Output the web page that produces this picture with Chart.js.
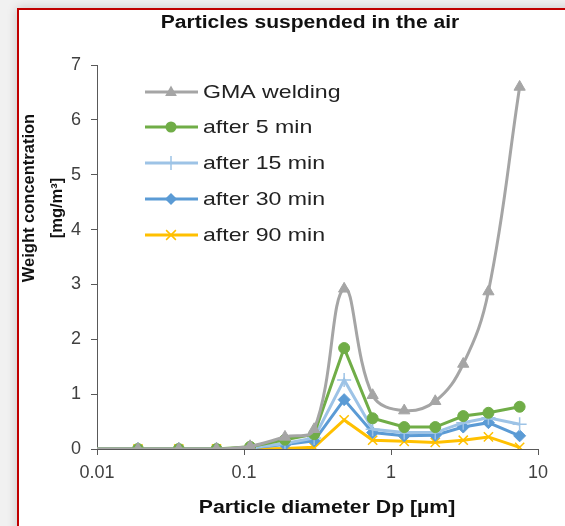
<!DOCTYPE html>
<html>
<head>
<meta charset="utf-8">
<script src="https://cdn.jsdelivr.net/npm/chart.js@4.4.0/dist/chart.umd.min.js"></script>
<style>
html, body { margin: 0; padding: 0; width: 565px; height: 526px; overflow: hidden; background: #f1f1f1; }
#frame { position: absolute; left: 17px; top: 8px; width: 620px; height: 600px; border: 2px solid #c00000; background: #fff; box-shadow: 0 0 10px rgba(0,0,0,0.18); }
#chart { position: absolute; left: 0; top: 0; }
</style>
</head>
<body>
<div id="frame"></div>
<canvas id="chart" width="565" height="526"></canvas>
<script>
// particle diameter (um) of each measuring stage
const diameters = [0.01, 0.019, 0.036, 0.065, 0.11, 0.19, 0.30, 0.48, 0.75, 1.23, 2.0, 3.1, 4.6, 7.5];

// weight concentration [mg/m3]
const gmaWelding = [0, 0, 0, 0, 0.05, 0.22, 0.36, 2.92, 0.98, 0.70, 0.87, 1.55, 2.87, 6.6];
const after5 = [0, 0, 0, 0, 0.04, 0.17, 0.27, 1.84, 0.56, 0.40, 0.40, 0.60, 0.66, 0.77];
const after15 = [0, 0, 0, 0, 0.02, 0.10, 0.20, 1.26, 0.36, 0.30, 0.30, 0.48, 0.57, 0.45];
const after30 = [0, 0, 0, 0, 0.02, 0.08, 0.15, 0.90, 0.30, 0.24, 0.25, 0.40, 0.48, 0.24];
const after90 = [0, 0, 0, 0, 0.00, 0.01, 0.03, 0.53, 0.16, 0.14, 0.12, 0.16, 0.22, 0.03];

const seriesNames = ['GMA welding', 'after 5 min', 'after 15 min', 'after 30 min', 'after 90 min'];
const xTicks = [0.01, 0.1, 1, 10];

const FONT = 'Arial, "Liberation Sans", sans-serif';

const styles = [
  { color: '#A5A5A5', point: 'triangle', r: 6.5, tension: 0.4 },
  { color: '#70AD47', point: 'circle', r: 5.5, tension: 0 },
  { color: '#9DC3E6', point: 'cross', r: 7, tension: 0 },
  { color: '#5B9BD5', point: 'rectRot', r: 6, tension: 0 },
  { color: '#FFC000', point: 'crossRot', r: 6.5, tension: 0 }
];

const values = [gmaWelding, after5, after15, after30, after90];

const datasets = values.map(function(vals, k) {
  const s = styles[k];
  return {
    label: seriesNames[k],
    data: diameters.map(function(d, i) { return { x: d, y: vals[i] }; }),
    borderColor: s.color,
    backgroundColor: s.color,
    borderWidth: 3,
    tension: s.tension,
    pointStyle: s.point,
    pointRadius: function(ctx) { return ctx.dataIndex === 0 ? 0 : s.r; },
    pointBorderWidth: (s.point === 'cross' || s.point === 'crossRot') ? 1.5 : 1,
    pointBackgroundColor: s.color,
    pointBorderColor: s.color,
    order: k
  };
});

// hand drawn marker for the legend
function marker(c, style, x, y, r, color) {
  c.fillStyle = color;
  c.strokeStyle = color;
  c.lineWidth = 1.5;
  c.beginPath();
  if (style === 'triangle') {
    c.moveTo(x, y - r);
    c.lineTo(x + r * 0.9, y + r * 0.6);
    c.lineTo(x - r * 0.9, y + r * 0.6);
    c.closePath();
    c.fill();
  } else if (style === 'circle') {
    c.arc(x, y, r, 0, Math.PI * 2);
    c.fill();
  } else if (style === 'cross') {
    c.moveTo(x, y - r); c.lineTo(x, y + r);
    c.moveTo(x - r, y); c.lineTo(x + r, y);
    c.stroke();
  } else if (style === 'rectRot') {
    c.moveTo(x, y - r); c.lineTo(x + r, y); c.lineTo(x, y + r); c.lineTo(x - r, y);
    c.closePath();
    c.fill();
  } else if (style === 'crossRot') {
    const d = r * 0.75;
    c.moveTo(x - d, y - d); c.lineTo(x + d, y + d);
    c.moveTo(x + d, y - d); c.lineTo(x - d, y + d);
    c.stroke();
  }
}

// the original picture is a bit stretched sideways, so text gets a x scale
function wideText(c, text, x, y, sx) {
  c.save();
  c.translate(x, y);
  c.scale(sx, 1);
  c.fillText(text, 0, 0);
  c.restore();
}

const overlay = {
  id: 'overlay',
  afterDraw: function(chart) {
    const c = chart.ctx;
    c.save();
    c.fillStyle = '#111';
    c.textAlign = 'center';
    c.textBaseline = 'middle';
    c.font = 'bold 18px ' + FONT;
    wideText(c, 'Particles suspended in the air', 310, 23, 1.17);
    wideText(c, 'Particle diameter Dp [µm]', 327, 508, 1.18);

    c.save();
    c.translate(43, 200);
    c.rotate(-Math.PI / 2);
    c.font = 'bold 16.5px ' + FONT;
    c.fillText('Weight concentration', 2, -14);
    c.fillText('[mg/m³]', -8, 14);
    c.restore();

    // legend inside the plot
    const rows = [92, 127, 163, 199, 235];
    c.textAlign = 'left';
    c.font = '18.5px ' + FONT;
    for (let k = 0; k < seriesNames.length; k++) {
      const y = rows[k];
      c.strokeStyle = styles[k].color;
      c.lineWidth = 3;
      c.beginPath();
      c.moveTo(145, y);
      c.lineTo(198, y);
      c.stroke();
      marker(c, styles[k].point, 171, y, styles[k].r, styles[k].color);
      c.fillStyle = '#222';
      wideText(c, seriesNames[k], 203, y + 1, 1.25);
    }
    c.restore();
  }
};

new Chart(document.getElementById('chart'), {
  type: 'line',
  data: { datasets: datasets },
  plugins: [overlay],
  options: {
    responsive: false,
    animation: false,
    layout: { padding: { left: 0, right: 27, top: 65, bottom: 0 } },
    plugins: {
      legend: { display: false },
      title: { display: false },
      tooltip: { enabled: false }
    },
    scales: {
      x: {
        type: 'logarithmic',
        min: 0.01,
        max: 10,
        afterBuildTicks: function(s) { s.ticks = xTicks.map(function(v) { return { value: v, major: true }; }); },
        afterFit: function(s) { s.height = 77; },
        ticks: {
          autoSkip: false,
          maxRotation: 0,
          padding: 7,
          color: '#404040',
          font: { size: 18, family: FONT },
          callback: function(v) { return String(v); }
        },
        grid: { drawOnChartArea: false, drawTicks: true, tickLength: 6, color: '#595959' },
        border: { display: true, color: '#595959', width: 1 }
      },
      y: {
        min: 0,
        max: 7,
        afterFit: function(s) { s.width = 97; },
        ticks: {
          stepSize: 1,
          padding: 10,
          color: '#404040',
          font: { size: 18, family: FONT }
        },
        grid: { drawOnChartArea: false, drawTicks: true, tickLength: 6, color: '#595959' },
        border: { display: true, color: '#595959', width: 1 }
      }
    }
  }
});
</script>
</body>
</html>
